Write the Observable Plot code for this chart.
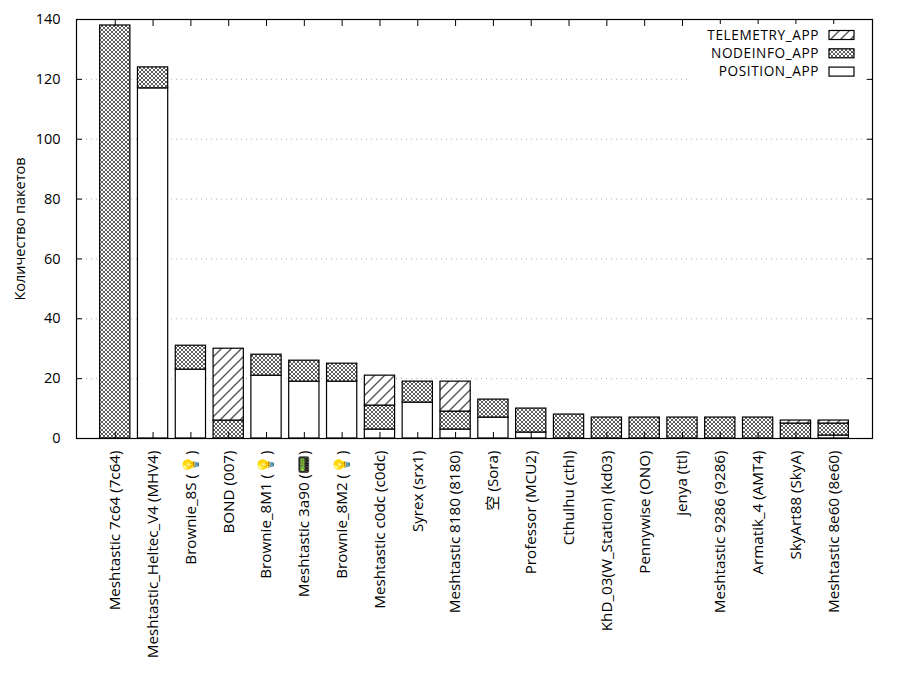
<!DOCTYPE html>
<html><head><meta charset="utf-8">
<script src="https://cdn.jsdelivr.net/npm/d3@7"></script>
<script src="https://cdn.jsdelivr.net/npm/@observablehq/plot@0.6"></script>
<style>body{margin:0;background:#fff;} svg{display:block;}</style>
</head><body>
<div id="chart"></div>
<script>
const names = [
  "Meshtastic 7c64 (7c64)", "Meshtastic_Heltec_V4 (MHV4)", "Brownie_8S (💡)", "BOND (007)",
  "Brownie_8M1 (💡)", "Meshtastic 3a90 (📟)", "Brownie_8M2 (💡)", "Meshtastic c0dc (c0dc)",
  "Syrex (srx1)", "Meshtastic 8180 (8180)", "空 (Sora)", "Professor (MCU2)", "Cthulhu (cthl)",
  "KhD_03(W_Station) (kd03)", "Pennywise (ONO)", "jenya (ttl)", "Meshtastic 9286 (9286)",
  "Armatik_4 (AMT4)", "SkyArt88 (SkyA)", "Meshtastic 8e60 (8e60)"
];
const position  = [0, 117, 23, 0, 21, 19, 19, 3, 12, 3, 7, 2, 0, 0, 0, 0, 0, 0, 0, 1];
const nodeinfo  = [138, 7, 8, 6, 7, 7, 6, 8, 7, 6, 6, 8, 8, 7, 7, 7, 7, 7, 5, 4];
const telemetry = [0, 0, 0, 24, 0, 0, 0, 10, 0, 10, 0, 0, 0, 0, 0, 0, 0, 0, 1, 1];
const seriesNames = ["POSITION_APP", "NODEINFO_APP", "TELEMETRY_APP"];
const yTicks = [0, 20, 40, 60, 80, 100, 120, 140];
const yLabel = "Количество пакетов";

const seriesValues = [position, nodeinfo, telemetry];
const rows = [];
names.forEach((n, i) => {
  seriesNames.forEach((s, j) => {
    const v = seriesValues[j][i];
    if (v > 0) rows.push({name: n, series: s, value: v});
  });
});
const fills = ["white", "url(#pcross)", "url(#pdiag)"];
const noText = () => "";
const FONT = "'Open Sans', 'Noto Sans', 'Noto Sans CJK SC', sans-serif";

const svg = Plot.plot({
  width: 900, height: 700,
  marginLeft: 76, marginRight: 28, marginTop: 19, marginBottom: 262,
  style: {fontFamily: FONT, fontSize: "14px", background: "white", color: "black"},
  x: {domain: names, paddingInner: 0.2, paddingOuter: 0.625, round: false, label: null},
  y: {domain: [0, 140], label: null},
  color: {domain: seriesNames, range: fills},
  marks: [
    Plot.gridY(yTicks.filter(t => t > 0 && t < 140), {stroke: "#b0b0b0", strokeOpacity: 1, strokeDasharray: "1,4"}),
    Plot.barY(rows, {x: "name", y: "value", fill: "series", stroke: "black", strokeWidth: 1.2}),
    Plot.axisY(yTicks, {anchor: "left", tickSize: 0, tickPadding: 16, fontSize: 14.5,
      label: yLabel, labelAnchor: "center", labelArrow: "none", labelOffset: 62}),
    Plot.axisY(yTicks, {anchor: "left", tickSize: 6, dx: 6, tickFormat: noText, label: null}),
    Plot.axisY(yTicks, {anchor: "right", tickSize: 6, dx: -6, tickFormat: noText, label: null}),
    Plot.axisX({anchor: "bottom", tickSize: 0, tickPadding: 12, tickRotate: -90, fontSize: 15.2, label: null}),
    Plot.axisX({anchor: "bottom", tickSize: 6, dy: -6, tickFormat: noText, label: null}),
    Plot.axisX({anchor: "top", tickSize: 6, dy: 6, tickFormat: noText, label: null}),
    Plot.frame({stroke: "black", strokeWidth: 1.2})
  ]
});

const s = d3.select(svg);
const defs = s.insert("defs", ":first-child");
const pc = defs.append("pattern").attr("id", "pcross").attr("patternUnits", "userSpaceOnUse")
  .attr("width", 4).attr("height", 4);
pc.append("rect").attr("width", 4).attr("height", 4).attr("fill", "white");
pc.append("path").attr("d", "M0,0L4,4M4,0L0,4").attr("stroke", "#333").attr("stroke-width", 0.8).attr("fill", "none");
const pd = defs.append("pattern").attr("id", "pdiag").attr("patternUnits", "userSpaceOnUse")
  .attr("width", 10).attr("height", 10);
pd.append("rect").attr("width", 10).attr("height", 10).attr("fill", "white");
pd.append("path").attr("d", "M-1,11L11,-1M-1,1L1,-1M9,11L11,9").attr("stroke", "#555").attr("stroke-width", 1.4).attr("fill", "none");

// legend (top right, inside plot)
const leg = s.append("g").attr("font-family", FONT).attr("font-size", 13.6).attr("letter-spacing", "0.6px");
leg.append("rect").attr("x", 690).attr("y", 24).attr("width", 176).attr("height", 58).attr("fill", "white");
const legendOrder = ["TELEMETRY_APP", "NODEINFO_APP", "POSITION_APP"];
legendOrder.forEach((name, k) => {
  const cy = 35 + k * 18.3;
  leg.append("text").attr("x", 819).attr("y", cy).attr("dy", "0.35em").attr("text-anchor", "end").text(name);
  leg.append("rect").attr("x", 829).attr("y", cy - 4.5).attr("width", 25).attr("height", 9)
    .attr("fill", fills[seriesNames.indexOf(name)]).attr("stroke", "black").attr("stroke-width", 1.2);
});

document.getElementById("chart").appendChild(svg);
</script>
</body></html>
